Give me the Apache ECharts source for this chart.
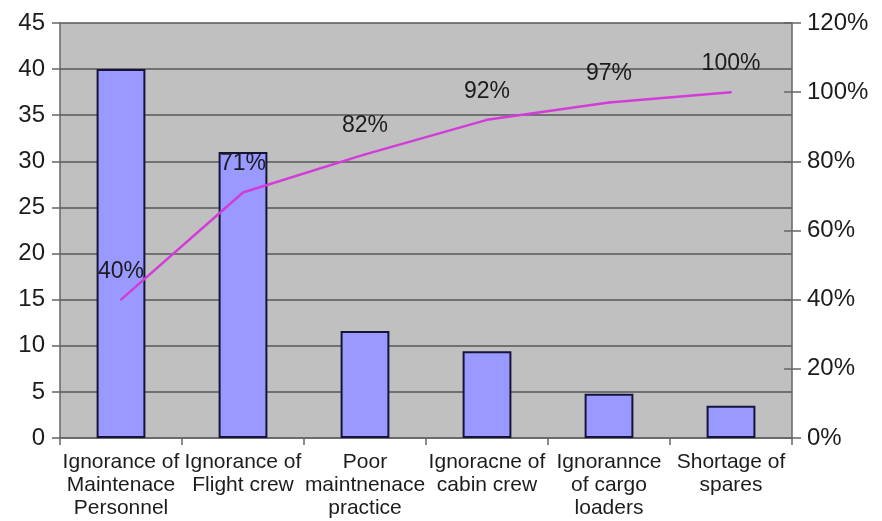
<!DOCTYPE html>
<html>
<head>
<meta charset="utf-8">
<script src="https://cdn.jsdelivr.net/npm/echarts@6/dist/echarts.min.js"></script>
<style>
  html, body { margin: 0; padding: 0; background: #ffffff; }
  #chart { width: 882px; height: 521px; }
</style>
</head>
<body>
<div id="chart"></div>
<script>
// Pareto chart: causes (bars, left axis) and cumulative share (line, right axis)
var categories = [
  'Ignorance of\nMaintenace\nPersonnel',
  'Ignorance of\nFlight crew',
  'Poor\nmaintnenace\npractice',
  'Ignoracne of\ncabin crew',
  'Ignorannce\nof cargo\nloaders',
  'Shortage of\nspares'
];
var counts = [40, 31, 11.6, 9.4, 4.8, 3.5];
var cumulativePct = [40, 71, 82, 92, 97, 100];

var leftTicks = { min: 0, max: 45, interval: 5 };
var rightTicks = { min: 0, max: 120, interval: 20 };

var FONT = '"Liberation Sans", Arial, sans-serif';
var TEXT = '#1c1c1c';
var AXIS = '#666666';
var LINE = '#d23cd8';
var chart = echarts.init(document.getElementById('chart'), null, { renderer: 'canvas' });

chart.setOption({
  animation: false,
  backgroundColor: '#ffffff',
  grid: {
    left: 60, right: 90, top: 23, bottom: 83,
    show: true, backgroundColor: '#c0c0c0', borderWidth: 0
  },
  xAxis: {
    type: 'category',
    data: categories,
    boundaryGap: true,
    axisLine: { lineStyle: { color: AXIS, width: 1.5 } },
    axisTick: { show: true, length: 7, lineStyle: { color: AXIS, width: 1.5 } },
    axisLabel: {
      interval: 0, margin: 13,
      fontFamily: FONT, fontSize: 21, lineHeight: 23, color: TEXT
    }
  },
  yAxis: [
    {
      type: 'value',
      min: leftTicks.min, max: leftTicks.max, interval: leftTicks.interval,
      axisLine: { show: true, lineStyle: { color: AXIS, width: 1.5 } },
      axisTick: { show: true, length: 8, lineStyle: { color: AXIS, width: 1.5 } },
      axisLabel: { margin: 15, fontFamily: FONT, fontSize: 24, color: TEXT },
      splitLine: { show: true, lineStyle: { color: '#575757', width: 1.5 } }
    },
    {
      type: 'value',
      position: 'right',
      min: rightTicks.min, max: rightTicks.max, interval: rightTicks.interval,
      axisLine: { show: true, lineStyle: { color: AXIS, width: 1.5 } },
      axisTick: { show: true, length: 9, lineStyle: { color: AXIS, width: 1.5 } },
      axisLabel: {
        margin: 15, fontFamily: FONT, fontSize: 24, color: TEXT,
        formatter: '{value}%'
      },
      splitLine: { show: false }
    },
    {
      // same right scale, drawing the inner half of its tick marks
      type: 'value',
      position: 'right',
      min: rightTicks.min, max: rightTicks.max, interval: rightTicks.interval,
      axisLine: { show: false },
      axisTick: { show: true, inside: true, length: 8, lineStyle: { color: AXIS, width: 1.5 } },
      axisLabel: { show: false },
      splitLine: { show: false }
    }
  ],
  series: [
    {
      type: 'bar',
      yAxisIndex: 0,
      data: counts,
      barWidth: '40%',
      itemStyle: { color: '#9999ff', borderColor: '#14143a', borderWidth: 2 }
    },
    {
      type: 'line',
      yAxisIndex: 1,
      data: cumulativePct,
      symbol: 'circle',
      symbolSize: 2,
      showSymbol: true,
      itemStyle: { color: LINE },
      lineStyle: { color: LINE, width: 2.5 },
      label: {
        show: true, position: 'top', distance: 16,
        fontFamily: FONT, fontSize: 23, color: TEXT,
        formatter: '{c}%'
      },
      labelLayout: { hideOverlap: false },
      z: 5
    }
  ]
});
</script>
</body>
</html>
